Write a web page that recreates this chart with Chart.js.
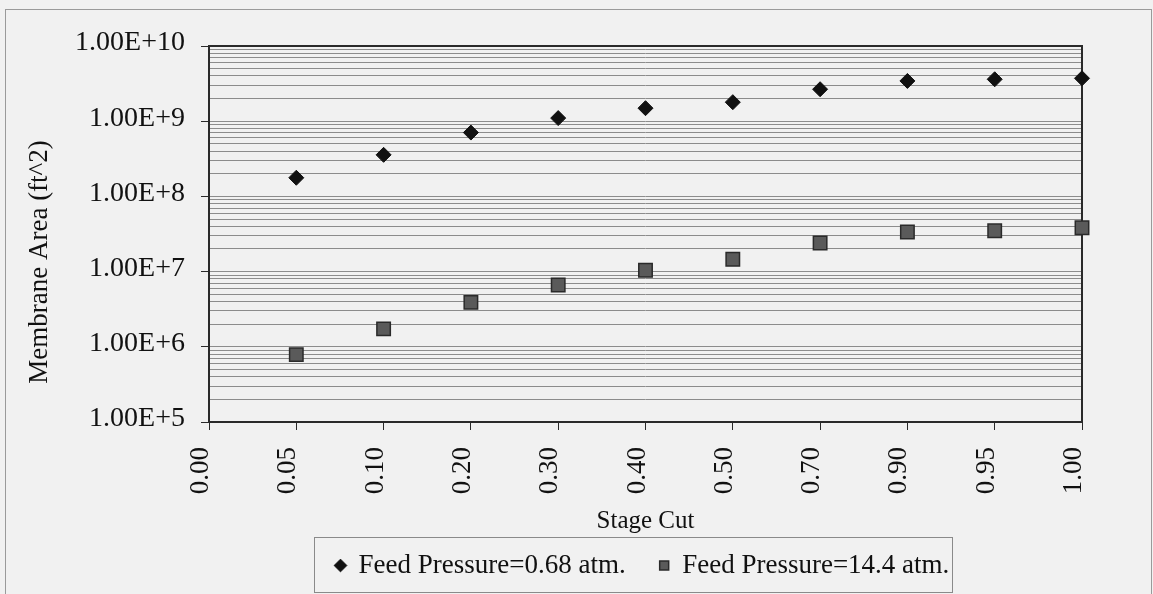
<!DOCTYPE html>
<html>
<head>
<meta charset="utf-8">
<title>Membrane Area vs Stage Cut</title>
<script src="https://cdn.jsdelivr.net/npm/chart.js@4.4.0/dist/chart.umd.min.js"></script>
<style>
    html, body { margin: 0; padding: 0; background: #f1f1f1; }
    #wrap { position: relative; width: 1153px; height: 594px; }
</style>
</head>
<body>
<div id="wrap">
    <canvas id="areaChart" width="1153" height="594"></canvas>
</div>
<script>
// stage cut categories (x axis)
const stageCuts = ['0.00', '0.05', '0.10', '0.20', '0.30', '0.40', '0.50', '0.70', '0.90', '0.95', '1.00'];

// membrane area, ft^2 (no value at 0.00)
const areaLowPressure  = [null, 1.77e8, 3.57e8, 7.06e8, 1.10e9, 1.49e9, 1.79e9, 2.66e9, 3.43e9, 3.61e9, 3.72e9];
const areaHighPressure = [null, 7.87e5, 1.73e6, 3.90e6, 6.64e6, 1.04e7, 1.46e7, 2.40e7, 3.36e7, 3.49e7, 3.83e7];

const seriesNames = ['Feed Pressure=0.68 atm.', 'Feed Pressure=14.4 atm.'];
const yTitle = 'Membrane Area (ft^2)';
const xTitle = 'Stage Cut';

// y axis decades and minor steps inside each decade
const decadeExps = [5, 6, 7, 8, 9, 10];
const minorSteps = [1, 2, 3, 4, 5, 6, 7, 8, 9];

const yTickValues = [];
decadeExps.forEach((e, i) => {
    if (i === decadeExps.length - 1) {
        yTickValues.push(Math.pow(10, e));
        return;
    }
    minorSteps.forEach(m => yTickValues.push(m * Math.pow(10, e)));
});

const isDecade = v => Math.abs(Math.log10(v) - Math.round(Math.log10(v))) < 1e-9;

const SERIF = "'Liberation Serif', 'Times New Roman', serif";
const INK = '#111';

// plot frame, outer border, y title and legend box
const framePlugin = {
    id: 'framePlugin',
    beforeDraw(chart) {
        const ctx = chart.ctx;
        ctx.save();
        ctx.strokeStyle = '#9a9a9a';
        ctx.lineWidth = 1;
        ctx.strokeRect(5.5, 9.5, chart.width - 7, chart.height);
        ctx.restore();
    },
    beforeDatasetsDraw(chart) {
        const { ctx, chartArea: a } = chart;
        ctx.save();
        ctx.strokeStyle = '#2a2a2a';
        ctx.lineWidth = 2;
        ctx.strokeRect(a.left, a.top, a.right - a.left, a.bottom - a.top);

        // vertical axis title, sits a bit below the plot's middle
        ctx.translate(40, (a.top + a.bottom) / 2 + 28);
        ctx.rotate(-Math.PI / 2);
        ctx.fillStyle = INK;
        ctx.font = "27px " + SERIF;
        ctx.textAlign = 'center';
        ctx.textBaseline = 'middle';
        ctx.fillText(yTitle, 0, 0);
        ctx.restore();
    },
    afterLayout(chart) {
        // move the legend row under the plot and tighten it vertically
        const lg = chart.legend;
        if (!lg) return;
        const pad = lg.options.labels.padding;
        const w = lg.right - lg.left;
        lg.left = chart.chartArea.left + 127 - pad;
        lg.right = lg.left + w;
        lg.top -= 19;
    },
    afterDraw(chart) {
        const lg = chart.legend;
        if (!lg || !lg.legendHitBoxes.length) return;
        const hb = lg.legendHitBoxes;
        const first = hb[0];
        const last = hb[hb.length - 1];
        const ctx = chart.ctx;
        ctx.save();
        ctx.strokeStyle = '#8a8a8a';
        ctx.lineWidth = 1;
        const x0 = Math.round(first.left - 22) + 0.5;
        const x1 = Math.round(last.left + last.width + 3) + 0.5;
        const y0 = Math.round(first.top - 15) + 0.5;
        const y1 = Math.round(first.top + first.height + 13) + 0.5;
        ctx.strokeRect(x0, y0, x1 - x0, y1 - y0);
        ctx.restore();
    }
};

const ctx = document.getElementById('areaChart').getContext('2d');

new Chart(ctx, {
    type: 'line',
    data: {
        labels: stageCuts,
        datasets: [
            {
                label: seriesNames[0],
                data: areaLowPressure,
                showLine: false,
                pointStyle: 'rectRot',
                pointRadius: 7.5,
                pointHoverRadius: 7.5,
                backgroundColor: '#111',
                borderColor: '#111',
                borderWidth: 1,
                clip: false
            },
            {
                label: seriesNames[1],
                data: areaHighPressure,
                showLine: false,
                pointStyle: 'rect',
                pointRadius: 9.5,
                pointHoverRadius: 9.5,
                backgroundColor: '#5a5a5a',
                borderColor: '#2a2a2a',
                borderWidth: 1.5,
                clip: false
            }
        ]
    },
    options: {
        responsive: false,
        animation: false,
        devicePixelRatio: 1,
        layout: { padding: { top: 46, right: 71, left: 0, bottom: 2 } },
        plugins: {
            tooltip: { enabled: false },
            legend: {
                position: 'bottom',
                align: 'start',
                maxHeight: 55,
                labels: {
                    usePointStyle: true,
                    boxWidth: 9,
                    boxHeight: 9,
                    padding: 34,
                    color: INK,
                    font: { family: SERIF, size: 27 }
                }
            }
        },
        scales: {
            x: {
                type: 'category',
                offset: false,
                border: { display: false },
                grid: {
                    offset: false,
                    drawOnChartArea: false,
                    drawTicks: true,
                    tickLength: 8,
                    tickColor: '#2a2a2a'
                },
                ticks: {
                    autoSkip: false,
                    minRotation: 90,
                    maxRotation: 90,
                    padding: 17,
                    labelOffset: -8,
                    color: INK,
                    font: { family: SERIF, size: 27 }
                },
                title: {
                    display: true,
                    text: xTitle,
                    color: INK,
                    padding: { top: 0, bottom: 1 },
                    font: { family: SERIF, size: 25 }
                },
                afterFit(scale) { scale.height = 115; }
            },
            y: {
                type: 'logarithmic',
                min: 1e5,
                max: 1e10,
                border: { display: false },
                grid: {
                    color: '#8c8c8c',
                    lineWidth: 1,
                    drawTicks: true,
                    tickLength: 8,
                    tickColor: c => (c.tick && isDecade(c.tick.value)) ? '#2a2a2a' : 'rgba(0,0,0,0)'
                },
                ticks: {
                    autoSkip: false,
                    padding: 16,
                    labelOffset: -3,
                    color: INK,
                    font: { family: SERIF, size: 28 },
                    callback: v => isDecade(v) ? Number(v).toExponential(2).toUpperCase() : ''
                },
                afterBuildTicks(scale) {
                    scale.ticks = yTickValues.map(v => ({ value: v, major: isDecade(v) }));
                },
                title: { display: false },
                afterFit(scale) { scale.width = 209; }
            }
        }
    },
    plugins: [framePlugin]
});
</script>
</body>
</html>
